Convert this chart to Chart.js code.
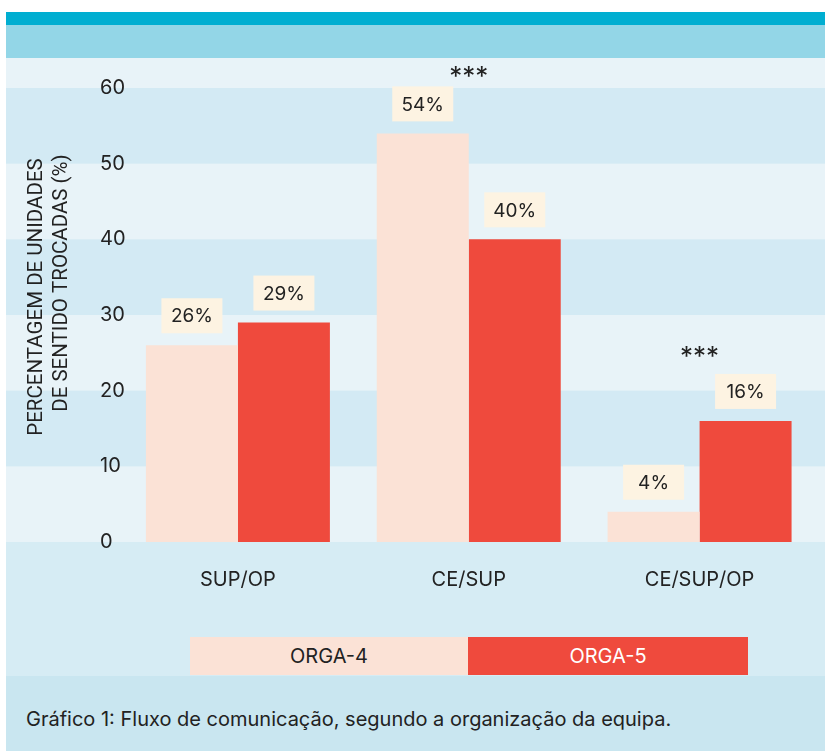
<!DOCTYPE html>
<html>
<head>
<meta charset="utf-8">
<script src="https://cdn.jsdelivr.net/npm/chart.js@4.4.1/dist/chart.umd.min.js"></script>
<style>
  html,body{margin:0;padding:0;background:#fff;}
  body{width:825px;height:751px;position:relative;overflow:hidden;font-family:Inter, "Noto Sans", sans-serif;}
  #teal{position:absolute;left:6px;top:12px;width:819px;height:13px;background:#00aed1;}
  #band{position:absolute;left:6px;top:25px;width:819px;height:33px;background:#93d6e7;}
  #wrap{position:absolute;left:6px;top:58px;width:819px;height:618px;}
  #caption{position:absolute;left:6px;top:676px;width:819px;height:75px;background:#c9e6f0;}
  #caption span{position:absolute;left:20px;top:31px;line-height:24px;font-size:20px;color:#222;font-family:Inter,sans-serif;}
  .leg{position:absolute;top:637px;height:38px;line-height:38px;text-align:center;font-size:20px;font-family:Inter,sans-serif;}
</style>
</head>
<body>
<div id="teal"></div>
<div id="band"></div>
<div id="wrap"><canvas id="c" width="819" height="618"></canvas></div>
<div class="leg" style="left:190px;width:278px;background:#fbe2d6;color:#222;">ORGA-4</div>
<div class="leg" style="left:468px;width:280px;background:#ef4a3d;color:#fff;">ORGA-5</div>
<div id="caption"><span>Gráfico 1: Fluxo de comunicação, segundo a organização da equipa.</span></div>
<script>
const categories = ["SUP/OP", "CE/SUP", "CE/SUP/OP"];
const seriesNames = ["ORGA-4", "ORGA-5"];
const orga4 = [26, 54, 4];
const orga5 = [29, 40, 16];
const significance = ["", "***", "***"];
const significanceLevel = [null, 62, 25];
const yTicks = [0, 10, 20, 30, 40, 50, 60];
const yTitle = ["PERCENTAGEM DE UNIDADES", "DE SENTIDO TROCADAS (%)"];

const LIGHT = "#e8f3f8";
const DARK = "#d3eaf4";

const bgPlugin = {
  id: "bg",
  beforeDraw(chart) {
    const ctx = chart.ctx, y = chart.scales.y;
    ctx.save();
    ctx.fillStyle = LIGHT;
    ctx.fillRect(0, 0, chart.width, chart.height);
    ctx.fillStyle = DARK;
    [[50,60],[30,40],[10,20]].forEach(([a,b]) => {
      const top = y.getPixelForValue(b), bot = y.getPixelForValue(a);
      ctx.fillRect(0, top, chart.width, bot - top);
    });
    const z = y.getPixelForValue(0);
    ctx.fillStyle = "#d6ecf4";
    ctx.fillRect(0, z, chart.width, chart.height - z);
    // y title
    ctx.fillStyle = "#222";
    ctx.font = "20.5px Roboto, sans-serif";
    ctx.textAlign = "center";
    ctx.textBaseline = "middle";
    const cy = (y.top + y.bottom) / 2 - 18;
    [[31, yTitle[0], 0], [56, yTitle[1], -14]].forEach(([x, t, dy]) => {
      ctx.save();
      ctx.translate(x, cy + dy);
      ctx.rotate(-Math.PI / 2);
      ctx.fillText(t, 0, 0);
      ctx.restore();
    });
    ctx.restore();
  },
  afterDatasetsDraw(chart) {
    const ctx = chart.ctx, y = chart.scales.y;
    ctx.save();
    ctx.font = "19px Inter, sans-serif";
    ctx.textAlign = "center";
    ctx.textBaseline = "middle";
    chart.data.datasets.forEach((ds, di) => {
      chart.getDatasetMeta(di).data.forEach((bar, i) => {
        const w = 61, h = 35;
        const bottom = bar.y - 12;
        ctx.fillStyle = "#fdf3e2";
        ctx.fillRect(bar.x - w / 2, bottom - h, w, h);
        ctx.fillStyle = "#222";
        ctx.fillText(ds.data[i] + "%", bar.x, bottom - h / 2 + 1);
      });
    });
    ctx.font = "26px Inter, sans-serif";
    significance.forEach((s, i) => {
      if (!s) return;
      const x = chart.scales.x.getPixelForValue(i);
      ctx.fillText(s, x, y.getPixelForValue(significanceLevel[i]) + 4);
    });
    ctx.restore();
  }
};

new Chart(document.getElementById("c"), {
  type: "bar",
  data: {
    labels: categories,
    datasets: [
      { label: seriesNames[0], data: orga4, backgroundColor: "#fbe2d6" },
      { label: seriesNames[1], data: orga5, backgroundColor: "#ef4a3d" }
    ]
  },
  options: {
    responsive: false,
    animation: false,
    barPercentage: 1,
    categoryPercentage: 0.797,
    layout: { padding: { left: 94, right: 10, top: 30, bottom: 0 } },
    plugins: { legend: { display: false }, tooltip: { enabled: false } },
    scales: {
      x: {
        grid: { display: false, drawTicks: false },
        border: { display: false },
        ticks: { color: "#222", font: { family: "Inter", size: 20 }, padding: 26 },
        afterFit(s) { s.height = 134; }
      },
      y: {
        min: 0, max: 60,
        grid: { display: false, drawTicks: false },
        border: { display: false },
        ticks: { stepSize: 10, color: "#222", font: { family: "Inter", size: 20 }, mirror: true, crossAlign: "near", padding: -22.5 },
        afterFit(s) { s.width = 22.5; }
      }
    }
  },
  plugins: [bgPlugin]
});
</script>
</body>
</html>
